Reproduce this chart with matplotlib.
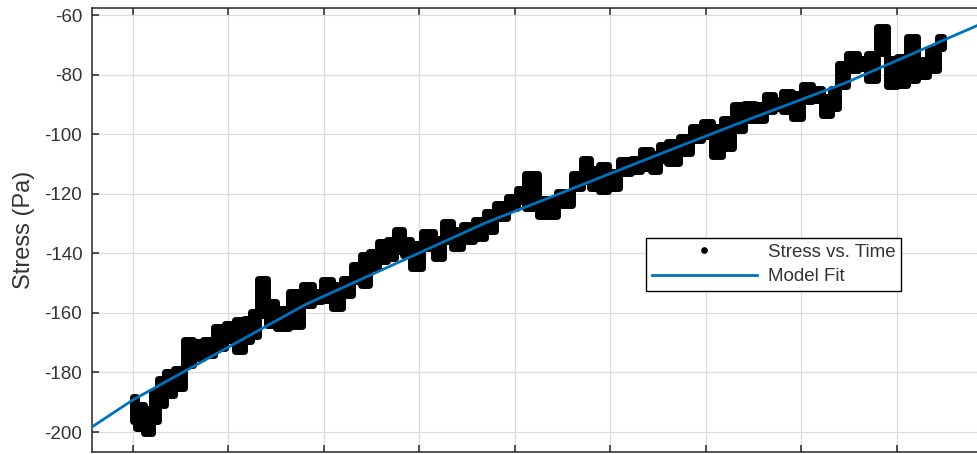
import matplotlib.pyplot as plt
from matplotlib.lines import Line2D

plt.rcParams['font.family'] = ['Liberation Sans', 'DejaVu Sans']

# time of each sample column and the spread of the measured stress there
time = [0.0, 0.07, 0.16, 0.23, 0.29, 0.38, 0.48, 0.59, 0.67, 0.79,
        0.91, 1.02, 1.12, 1.20, 1.27, 1.35, 1.45, 1.55, 1.71, 1.83,
        1.93, 2.02, 2.14, 2.24, 2.35, 2.43, 2.51, 2.62, 2.70, 2.79,
        2.86, 2.96, 3.10, 3.20, 3.30, 3.39, 3.51, 3.63, 3.74, 3.85,
        3.98, 4.06, 4.15, 4.34, 4.53, 4.66, 4.74, 4.83, 4.92, 5.03,
        5.15, 5.28, 5.36, 5.48, 5.54, 5.65, 5.78, 5.91, 6.01, 6.12,
        6.22, 6.34, 6.46, 6.57, 6.67, 6.75, 6.85, 6.95, 7.06, 7.16,
        7.27, 7.35, 7.42, 7.54, 7.64, 7.74, 7.85, 7.95, 8.05, 8.16,
        8.27, 8.38, 8.48]
stress_high = [-188.2, -190.9, -192.3, -186.6, -182.2, -179.8, -178.8, -169.1, -169.8, -169.1,
               -164.7, -163.7, -162.4, -162.0, -159.7, -148.6, -156.3, -158.7, -153.0, -150.6,
               -153.0, -149.0, -150.6, -148.6, -143.9, -140.6, -139.6, -136.2, -135.5, -132.2,
               -135.5, -136.9, -132.8, -135.2, -129.5, -132.2, -130.5, -128.8, -126.1, -123.4,
               -121.1, -118.4, -113.4, -121.8, -119.4, -113.4, -108.3, -111.7, -110.4, -112.7,
               -108.7, -108.3, -105.3, -106.7, -103.6, -102.6, -101.0, -97.6, -95.9, -97.6,
               -94.9, -90.2, -89.9, -90.2, -86.9, -88.5, -85.8, -86.5, -83.5, -84.8,
               -87.5, -84.8, -76.4, -73.1, -74.8, -73.1, -64.0, -74.8, -74.1, -67.4,
               -75.1, -71.4, -67.4]
stress_low = [-196.3, -198.6, -200.3, -196.3, -190.9, -187.6, -185.2, -177.5, -175.1, -174.1,
              -171.8, -169.1, -172.8, -169.4, -167.8, -160.7, -164.1, -165.1, -164.4, -157.3,
              -156.0, -155.7, -158.4, -154.0, -149.3, -150.6, -144.9, -142.6, -141.6, -139.2,
              -140.6, -144.9, -138.2, -141.6, -135.9, -138.2, -135.9, -134.9, -132.5, -128.1,
              -124.8, -122.4, -124.8, -127.5, -123.8, -118.1, -115.7, -118.1, -119.1, -118.1,
              -113.0, -112.4, -111.4, -112.4, -108.7, -109.7, -106.3, -101.9, -100.6, -107.3,
              -104.6, -98.6, -95.2, -95.2, -92.2, -91.2, -92.2, -94.6, -88.9, -88.5,
              -93.6, -91.2, -83.8, -78.5, -77.8, -81.8, -72.8, -83.8, -83.5, -81.8,
              -80.5, -78.5, -71.1]

# model fit curve
fit_time = [-0.43, 0.0, 1.80, 3.69, 5.57, 6.46, 7.46, 8.85]
fit_stress = [-198.3, -189.2, -157.3, -129.8, -106.0, -94.9, -82.8, -63.4]

y_ticks = [-200, -180, -160, -140, -120, -100, -80, -60]
x_ticks = list(range(10))

text_color = '#333333'
fit_color = '#0072BD'

fig = plt.figure(figsize=(9.78, 4.54), dpi=100)
ax = fig.add_axes([92 / 978, 2 / 454, 908 / 978, 444 / 454])

# dense samples drawn as a filled band with rounded edges
ax.fill_between(time, stress_low, stress_high, step='mid', color='black',
                edgecolor='black', linewidth=5.0, joinstyle='round', zorder=2)
ax.plot(fit_time, fit_stress, color=fit_color, linewidth=2.0, zorder=3)

ax.set_xlim(-0.429, 9.079)
ax.set_ylim(-206.7, -57.65)
ax.set_xticks(x_ticks)
ax.set_yticks(y_ticks)
ax.set_yticklabels([str(v) for v in y_ticks])

ax.grid(True, color='#dcdcdc', linewidth=0.9, zorder=0)
ax.set_axisbelow(True)
ax.tick_params(axis='both', direction='in', length=5, width=1.1, color='#262626',
               top=True, right=True, labelbottom=False, labelsize=13.5,
               labelcolor=text_color, pad=7)
for side in ax.spines.values():
    side.set_color('#262626')
    side.set_linewidth(1.1)

ax.set_ylabel('Stress (Pa)', fontsize=17, color=text_color, labelpad=6.5)

handles = [
    Line2D([], [], linestyle='none', marker='o', markersize=3.8, color='black'),
    Line2D([], [], color=fit_color, linewidth=2.0),
]
leg = ax.legend(handles, ['Stress vs. Time', 'Model Fit'],
                loc='upper left', bbox_to_anchor=(646 / 978, 1 - 238 / 454),
                bbox_transform=fig.transFigure, borderaxespad=0,
                fontsize=13.5, handlelength=5.6, handletextpad=0.6,
                labelspacing=0.4, borderpad=0.3, fancybox=False,
                framealpha=1, edgecolor='black')
leg.get_frame().set_linewidth(1.0)
for t in leg.get_texts():
    t.set_color(text_color)

fig.savefig('out.png', dpi=100)
